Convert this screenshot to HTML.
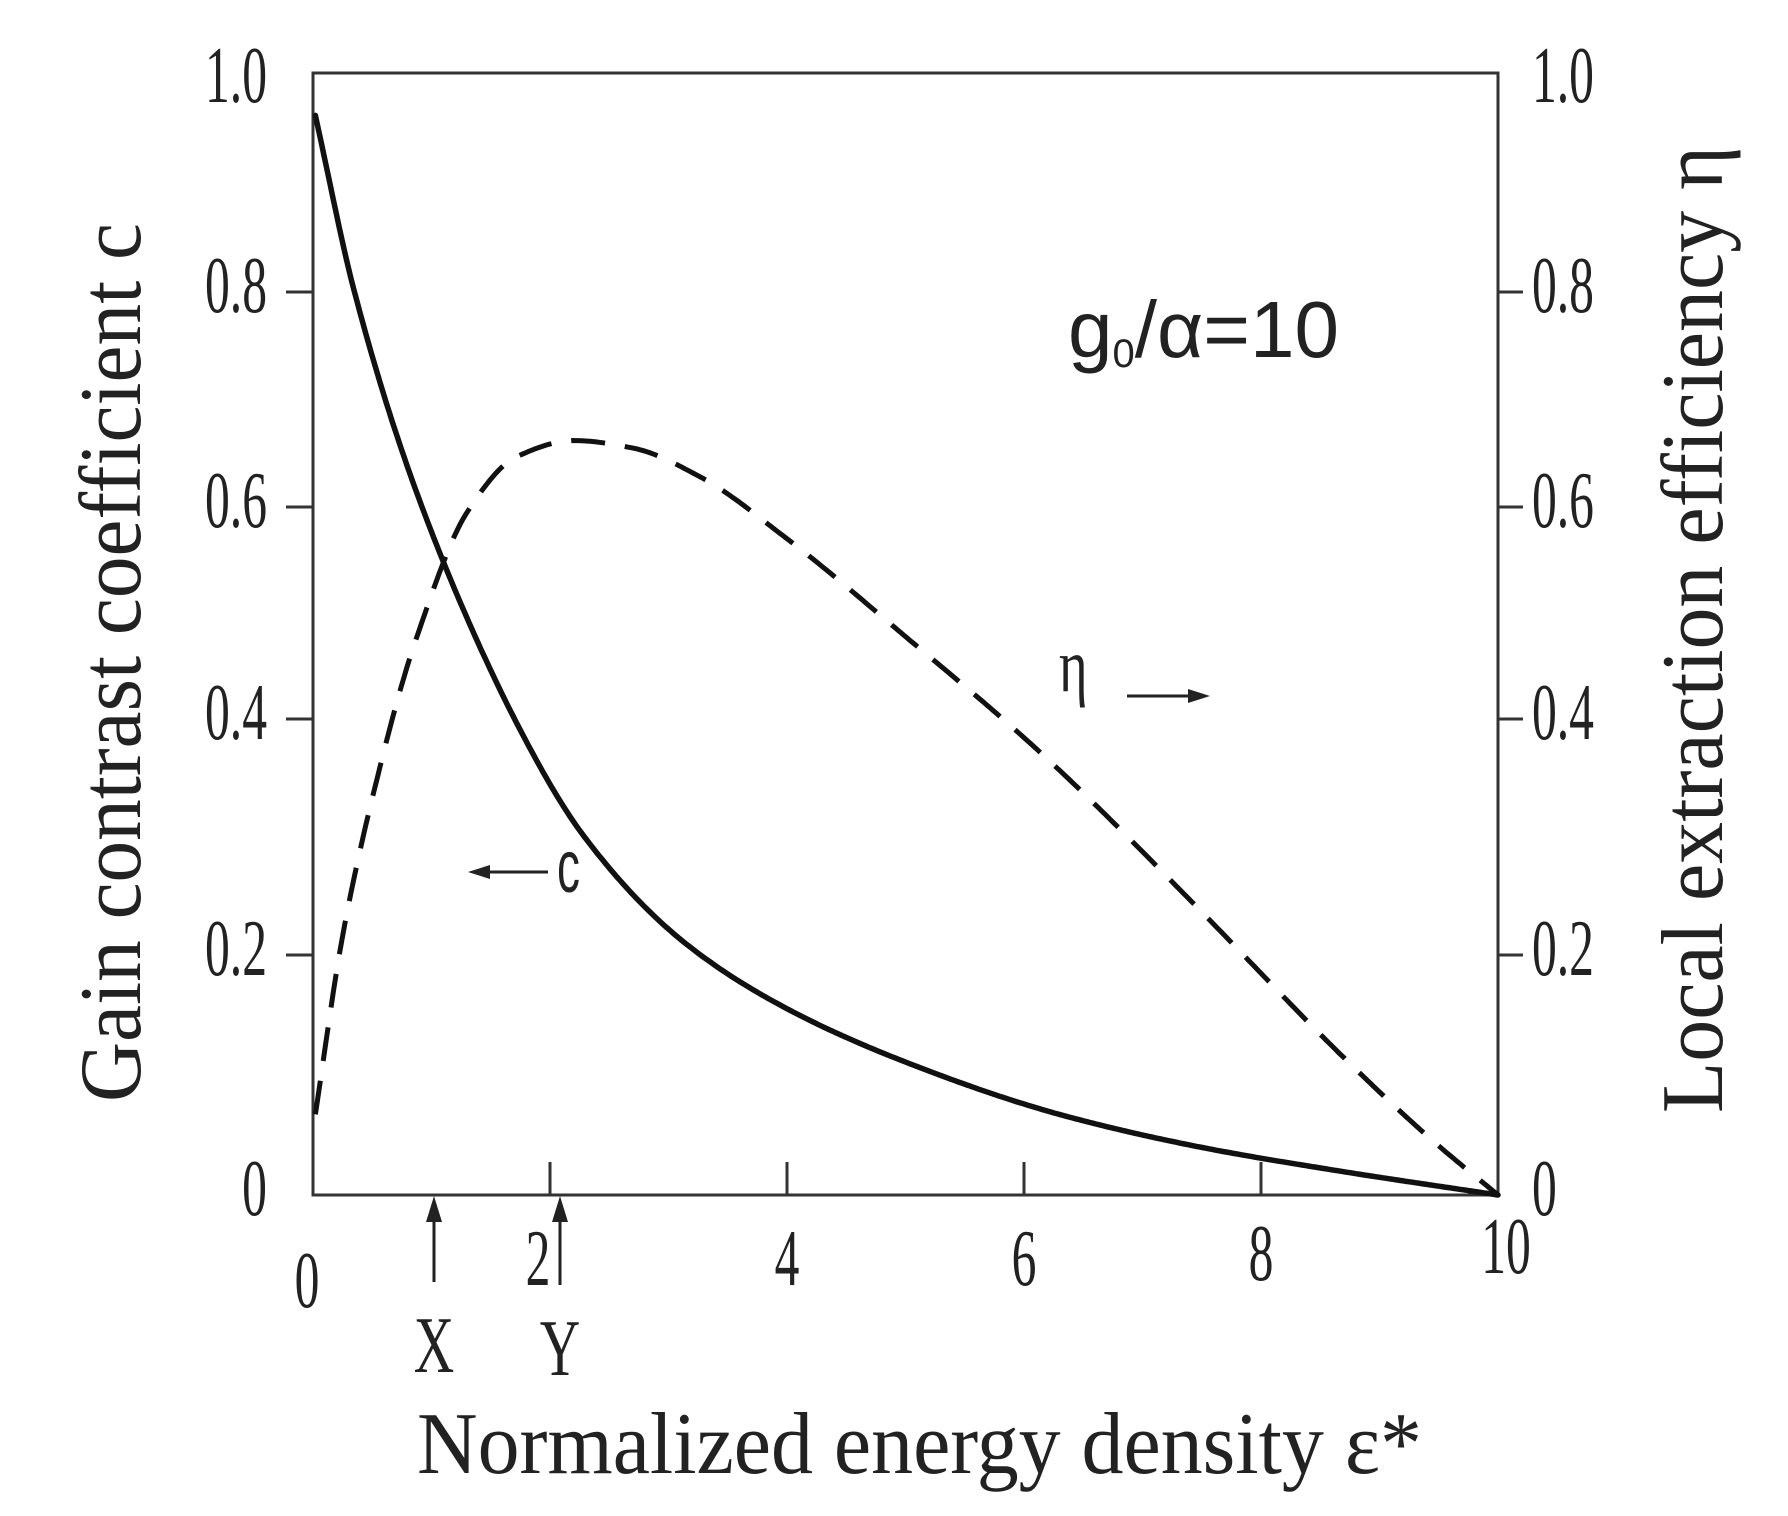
<!DOCTYPE html>
<html><head><meta charset="utf-8"><style>
html,body{margin:0;padding:0;background:#fff;}
svg{display:block;}
text{font-family:"Liberation Serif",serif;fill:#222;}
</style></head><body>
<svg id="chart" width="1788" height="1516" viewBox="0 0 1788 1516" xmlns="http://www.w3.org/2000/svg">
<g id="axes"></g>
<g id="series"></g>
<text x="417" y="1473" font-size="88" textLength="1005" lengthAdjust="spacingAndGlyphs">Normalized energy density ε*</text>
<text transform="translate(140,1102) rotate(-90)" x="0" y="0" font-size="88" textLength="879" lengthAdjust="spacingAndGlyphs">Gain contrast coefficient c</text>
<text transform="translate(1722,1113) rotate(-90)" x="0" y="0" font-size="88" textLength="967" lengthAdjust="spacingAndGlyphs">Local extraction efficiency η</text>
<text x="1068" y="357" font-size="80" style="font-family:'Liberation Sans',sans-serif">g<tspan font-size="40" dy="10">0</tspan><tspan dy="-10">/α=10</tspan></text>
<text x="1059" y="691" font-size="76" transform="translate(1059,0) scale(0.72,1) translate(-1059,0)">η</text>
<g><line x1="1127" y1="696" x2="1195" y2="696" stroke="#222" stroke-width="3"/><polygon points="1210,696 1188,689 1188,703" fill="#222"/></g>
<g><line x1="483" y1="872" x2="548" y2="872" stroke="#222" stroke-width="3"/><polygon points="468,872 490,865 490,879" fill="#222"/></g>
<text x="557" y="892" font-size="74" transform="translate(557,0) scale(0.62,1) translate(-557,0)" style="font-family:'Liberation Sans',sans-serif">c</text>
<g><line x1="434" y1="1282" x2="434" y2="1210" stroke="#222" stroke-width="3"/><polygon points="434,1196 426,1222 442,1222" fill="#222"/></g>
<g><line x1="560" y1="1285" x2="560" y2="1210" stroke="#222" stroke-width="3"/><polygon points="560,1196 552,1222 568,1222" fill="#222"/></g>
<text x="434" y="1372" font-size="80" text-anchor="middle" transform="translate(434,0) scale(0.7,1) translate(-434,0)">X</text>
<text x="560" y="1375" font-size="80" text-anchor="middle" transform="translate(560,0) scale(0.7,1) translate(-560,0)">Y</text>
</svg>
<script>
const xTicks = [2, 4, 6, 8];
const xTickLabels = ["0", "2", "4", "6", "8", "10"];
const xTickLabelValues = [0, 2, 4, 6, 8, 10];
const yTicks = [0.2, 0.4, 0.6, 0.8];
const yTickLabels = ["0", "0.2", "0.4", "0.6", "0.8", "1.0"];
const yTickLabelValues = [0, 0.2, 0.4, 0.6, 0.8, 1.0];
const cX = [0.02, 0.35, 0.92, 1.75, 2.28, 3.14, 4.0, 5.12, 6.3, 7.48, 8.66, 10];
const cY = [0.965, 0.8, 0.6, 0.39, 0.30, 0.21, 0.155, 0.106, 0.067, 0.04, 0.02, 0];
const etaX = [0.02, 0.25, 0.59, 0.87, 1.3, 1.72, 2.2, 2.7, 3.27, 4.0, 5.12, 6.3, 7.48, 8.66, 9.44, 10];
const etaY = [0.067, 0.216, 0.368, 0.474, 0.595, 0.647, 0.662, 0.655, 0.628, 0.57, 0.465, 0.355, 0.238, 0.118, 0.046, 0];

const NS = "http://www.w3.org/2000/svg";
const X0 = 313, X1 = 1498, YB = 1195, YT = 73;
const Y_CAL_V = [0, 0.2, 0.4, 0.6, 0.8, 1.0];
const Y_CAL_P = [1195, 955, 719, 507, 292, 78];
function sx(v){ return X0 + (X1 - X0) * v / 10; }
function monotone(xs, ys){
  const n = xs.length, d = [], m = [];
  for (let i = 0; i < n-1; i++) d.push((ys[i+1]-ys[i])/(xs[i+1]-xs[i]));
  m[0] = d[0]; m[n-1] = d[n-2];
  for (let i = 1; i < n-1; i++){
    if (d[i-1]*d[i] <= 0) m[i] = 0;
    else {
      const h0 = xs[i]-xs[i-1], h1 = xs[i+1]-xs[i];
      const w1 = 2*h1+h0, w2 = h1+2*h0;
      m[i] = (w1+w2)/(w1/d[i-1] + w2/d[i]);
    }
  }
  return function(x){
    let i = 0;
    while (i < n-2 && x > xs[i+1]) i++;
    const h = xs[i+1]-xs[i], t = (x-xs[i])/h, t2 = t*t, t3 = t2*t;
    return (2*t3-3*t2+1)*ys[i] + (t3-2*t2+t)*h*m[i] + (-2*t3+3*t2)*ys[i+1] + (t3-t2)*h*m[i+1];
  };
}
const yMap = monotone(Y_CAL_V, Y_CAL_P);
function sy(v){ return yMap(v); }
function mk(tag, attrs, parent){
  const e = document.createElementNS(NS, tag);
  for (const k in attrs) e.setAttribute(k, attrs[k]);
  parent.appendChild(e); return e;
}
const axes = document.getElementById('axes');
const frame = mk('rect', {x:X0, y:YT, width:X1-X0, height:YB-YT, fill:'none', stroke:'#333', 'stroke-width':3}, axes);


xTicks.forEach(v => {
  const t = mk('line', {x1:sx(v), x2:sx(v), y1:YB, y2:YB-33, stroke:'#333', 'stroke-width':3}, axes);
  
  
});
const xLabY = [1307, 1285, 1285, 1285, 1280, 1273];
const xLabDx = [-6, -12, 0, 0, 0, 8];
xTickLabels.forEach((s, i) => {
  const x = sx(xTickLabelValues[i]) + xLabDx[i];
  const t = mk('text', {x:x, y:xLabY[i], 'font-size':80, 'text-anchor':'middle', transform:`translate(${x},0) scale(0.62,1) translate(${-x},0)`}, axes);
  t.textContent = s;
  
  
});
yTicks.forEach(v => {
  const l = mk('line', {x1:X0-27, x2:X0, y1:sy(v), y2:sy(v), stroke:'#333', 'stroke-width':3}, axes);
  
  
  const r = mk('line', {x1:X1, x2:X1+25, y1:sy(v), y2:sy(v), stroke:'#333', 'stroke-width':3}, axes);
  
  
});
yTickLabels.forEach((s, i) => {
  const v = yTickLabelValues[i];
  const y = v === 1 ? 102 : sy(v) + 20;
  const lx = 267;
  const t = mk('text', {x:lx, y:y, 'font-size':80, 'text-anchor':'end', transform:`translate(${lx},0) scale(0.62,1) translate(${-lx},0)`}, axes);
  t.textContent = s;
  
  
  const rx = 1532;
  const r = mk('text', {x:rx, y:y, 'font-size':80, 'text-anchor':'start', transform:`translate(${rx},0) scale(0.62,1) translate(${-rx},0)`}, axes);
  r.textContent = s;
  
  
});
function smoothPath(xs, ys){
  const f = monotone(xs, ys);
  const pts = [];
  const a = xs[0], b = xs[xs.length-1], N = 400;
  for (let k = 0; k <= N; k++){
    const x = a + (b - a) * k / N;
    pts.push(`${sx(x).toFixed(1)},${sy(f(x)).toFixed(1)}`);
  }
  return 'M' + pts.join(' L');
}
const series = document.getElementById('series');
const cLine = mk('path', {d:smoothPath(cX, cY), fill:'none', stroke:'#111', 'stroke-width':5.5, 'stroke-linecap':'round', 'stroke-linejoin':'round'}, series);


const eLine = mk('path', {d:smoothPath(etaX, etaY), fill:'none', stroke:'#111', 'stroke-width':5, 'stroke-dasharray':'34 20', 'stroke-linejoin':'round'}, series);


</script>
</body></html>
